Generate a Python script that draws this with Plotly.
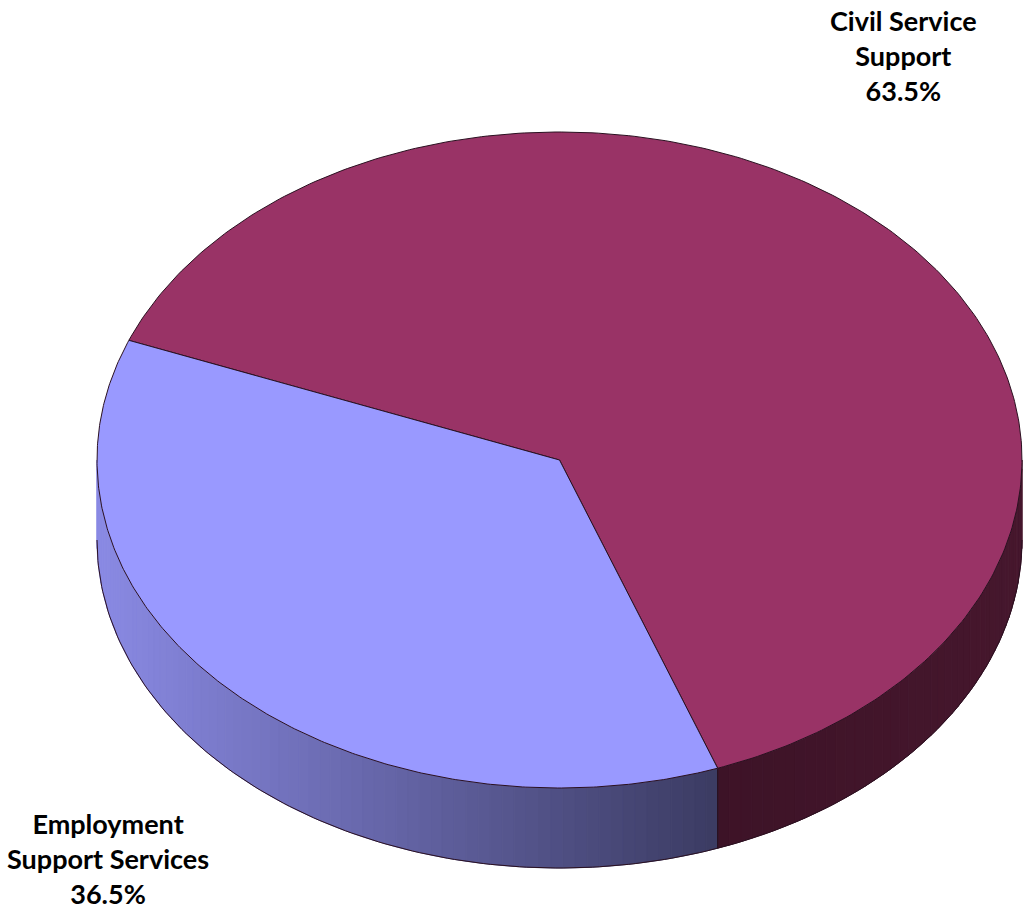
import numpy as np
import plotly.graph_objects as go

# ---- data ----
categories = ["Civil Service Support", "Employment Support Services"]
values = [63.5, 36.5]
label_lines = [["Civil Service", "Support"], ["Employment", "Support Services"]]

# ---- style / geometry (pixel space of the browser window) ----
W, H = 1024, 909
cx, cy = 559.5, 460.0
rx, ry = 462.5, 328.0
depth = 80.0
start_deg = 158.6  # angle where the first slice starts, slices run clockwise
top_colors = ["#993366", "#9999FF"]
side_from = [(0x3d, 0x13, 0x27), (0x8a, 0x8a, 0xe4)]
side_to = [(0x46, 0x17, 0x2d), (0x3b, 0x3b, 0x62)]
edge = "#2a1020"


def px(t):
    r = np.radians(t)
    return cx + rx * np.cos(r), cy - ry * np.sin(r)


total = sum(values)
spans = []
a = start_deg
for v in values:
    sweep = v / total * 360.0
    spans.append((a - sweep, a))
    a -= sweep

fig = go.Figure()


def norm_visible(lo, hi):
    out = []
    for k in range(-2, 3):
        s, e = lo + 360 * k, hi + 360 * k
        s2, e2 = max(s, 180.0), min(e, 360.0)
        if e2 > s2:
            out.append((s2, e2))
    return out


# ---- sides (gradient strips) ----
for i, (lo, hi) in enumerate(spans):
    for (s, e) in norm_visible(lo, hi):
        n = max(2, int((e - s) / 1.5))
        ts = np.linspace(s, e, n + 1)
        xs_all = [px(t)[0] for t in ts]
        xmin, xmax = min(xs_all), max(xs_all)
        for j in range(n):
            t0, t1 = ts[j], ts[j + 1]
            x0, y0 = px(t0)
            x1, y1 = px(t1)
            xm = (x0 + x1) / 2
            f = (xm - xmin) / (xmax - xmin) if xmax > xmin else 0
            c0, c1 = side_from[i], side_to[i]
            col = "rgb(%d,%d,%d)" % tuple(int(round(c0[k] + (c1[k] - c0[k]) * f)) for k in range(3))
            fig.add_trace(go.Scatter(
                x=[x0, x1, x1, x0, x0], y=[y0, y1, y1 + depth, y0 + depth, y0],
                mode="lines", fill="toself", fillcolor=col,
                line=dict(color=col, width=1), hoverinfo="skip", showlegend=False))

# side outlines
tb = np.linspace(180, 360, 200)
bx = [px(t)[0] for t in tb]
by = [px(t)[1] + depth for t in tb]
fig.add_trace(go.Scatter(x=bx, y=by, mode="lines", line=dict(color=edge, width=1),
                         hoverinfo="skip", showlegend=False))
for (lo, hi) in spans:
    for t in (lo, hi):
        tt = t % 360
        if 180 < tt < 360:
            x0, y0 = px(tt)
            fig.add_trace(go.Scatter(x=[x0, x0], y=[y0, y0 + depth], mode="lines",
                                     line=dict(color=edge, width=1),
                                     hoverinfo="skip", showlegend=False))

# ---- top faces ----
for i, (lo, hi) in enumerate(spans):
    ts = np.linspace(lo, hi, 300)
    xs = [cx] + [px(t)[0] for t in ts] + [cx]
    ys = [cy] + [px(t)[1] for t in ts] + [cy]
    fig.add_trace(go.Scatter(x=xs, y=ys, mode="lines", fill="toself",
                             fillcolor=top_colors[i], line=dict(color=edge, width=1),
                             hoverinfo="skip", showlegend=False))

# ---- labels ----
label_pos = [(903, 55), (108, 858)]
for i, cat in enumerate(categories):
    pct = values[i] / total * 100
    lines = label_lines[i] + ["%.1f%%" % pct]
    txt = "<br>".join("<b>%s</b>" % s for s in lines)
    fig.add_annotation(x=label_pos[i][0], y=label_pos[i][1], text=txt, showarrow=False,
                       xanchor="center", yanchor="middle", align="center",
                       font=dict(family="Lato", size=27, color="#000000"))

fig.update_layout(
    width=W, height=H, margin=dict(l=0, r=0, t=0, b=0),
    paper_bgcolor="white", plot_bgcolor="white",
    xaxis=dict(range=[0, W], visible=False, fixedrange=True),
    yaxis=dict(range=[H, 0], visible=False, fixedrange=True),
    hovermode=False,
)

fig.write_html("out.html", config={"displayModeBar": False, "staticPlot": True},
               post_script="document.body.style.margin='0px';document.body.style.overflow='hidden';")
